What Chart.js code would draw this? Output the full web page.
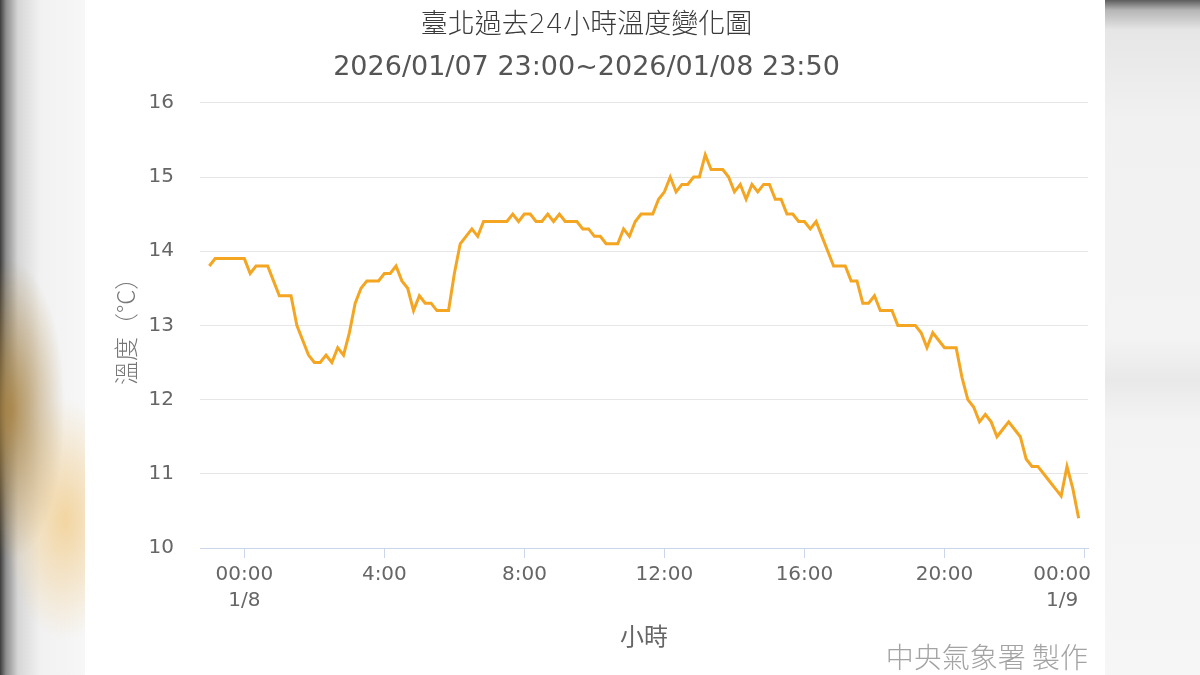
<!DOCTYPE html>
<html lang="zh-Hant">
<head>
<meta charset="utf-8">
<title>臺北過去24小時溫度變化圖</title>
<script src="https://cdn.jsdelivr.net/npm/chart.js@4.4.1/dist/chart.umd.min.js"></script>
<style>
  html, body { margin: 0; padding: 0; width: 1200px; height: 675px; overflow: hidden; }
  body {
    position: relative;
    background:
      radial-gradient(ellipse 55px 150px at 10px 410px, rgba(170,130,60,0.85), rgba(230,190,120,0) 100%),
      radial-gradient(ellipse 60px 120px at 65px 520px, rgba(242,205,140,0.8), rgba(240,200,130,0) 100%),
      linear-gradient(to right, #3c3c3c 0px, #8d8d8d 6px, #d6d6d6 18px, #f1f1f1 40px, #f7f7f7 85px);
  }
  #right { position: absolute; left: 1105px; top: 0; width: 95px; height: 675px;
    background: linear-gradient(to bottom, #5c5c5c 0px, #b5b5b5 10px, #e6e6e6 30px, #f1f1f1 120px, #f3f3f3 340px, #e9e9e9 380px, #f3f3f3 420px, #f6f6f6 675px); }
  #panel { position: absolute; left: 85px; top: 0; width: 1020px; height: 675px; background: #fff; }
</style>
</head>
<body>
<div id="right"></div>
<div id="panel"><canvas id="chart"></canvas></div>
<script>
// readings every 10 minutes, 2026/01/07 23:00 -> 2026/01/08 23:50
const startMinute = -60;   // minutes from 2026/01/08 00:00
const stepMinutes = 10;
const temps = [
  13.8, 13.9, 13.9, 13.9, 13.9, 13.9, 13.9,
  13.7, 13.8, 13.8, 13.8,
  13.6, 13.4, 13.4, 13.4,
  13.0, 12.8, 12.6, 12.5, 12.5, 12.6, 12.5, 12.7, 12.6,
  12.9, 13.3, 13.5, 13.6, 13.6, 13.6, 13.7, 13.7, 13.8,
  13.6, 13.5, 13.2, 13.4, 13.3, 13.3, 13.2, 13.2, 13.2,
  13.7, 14.1, 14.2, 14.3, 14.2,
  14.4, 14.4, 14.4, 14.4, 14.4,
  14.5, 14.4, 14.5, 14.5, 14.4, 14.4, 14.5, 14.4, 14.5, 14.4, 14.4, 14.4,
  14.3, 14.3, 14.2, 14.2, 14.1, 14.1, 14.1,
  14.3, 14.2, 14.4, 14.5, 14.5, 14.5,
  14.7, 14.8, 15.0, 14.8, 14.9, 14.9, 15.0, 15.0, 15.3, 15.1, 15.1, 15.1, 15.0,
  14.8, 14.9, 14.7, 14.9, 14.8, 14.9, 14.9, 14.7, 14.7, 14.5, 14.5,
  14.4, 14.4, 14.3, 14.4, 14.2, 14.0, 13.8, 13.8, 13.8, 13.6, 13.6,
  13.3, 13.3, 13.4, 13.2, 13.2, 13.2, 13.0, 13.0, 13.0, 13.0, 12.9,
  12.7, 12.9, 12.8, 12.7, 12.7, 12.7, 12.3, 12.0, 11.9, 11.7,
  11.8, 11.7, 11.5, 11.6, 11.7, 11.6, 11.5, 11.2, 11.1, 11.1,
  11.0, 10.9, 10.8, 10.7, 11.1, 10.8, 10.4
];
const xTickMinutes = [0, 240, 480, 720, 960, 1200, 1440];
const xTickLabels = [['00:00', '1/8'], '4:00', '8:00', '12:00', '16:00', '20:00', ['00:00', '1/9']];

const titleText = '臺北過去24小時溫度變化圖';
const subtitleText = '2026/01/07 23:00~2026/01/08 23:50';
const yTitle = '溫度（°C）';
const xTitle = '小時';
const creditText = '中央氣象署 製作';

const latin = '"DejaVu Sans", "Noto Sans CJK TC", sans-serif';
const cjk = '"Noto Sans CJK TC", "DejaVu Sans", sans-serif';

// x labels drawn by hand so the last one can be pulled inside the plot, highcharts-style
const xLabelPlugin = {
  id: 'xLabels',
  afterDraw(chart) {
    const ctx = chart.ctx;
    const sx = chart.scales.x;
    ctx.save();
    ctx.font = '20px ' + latin;
    ctx.fillStyle = '#666';
    ctx.textAlign = 'center';
    ctx.textBaseline = 'middle';
    xTickMinutes.forEach((m, i) => {
      const lines = [].concat(xTickLabels[i]);
      const w = Math.max(...lines.map(l => ctx.measureText(l).width));
      let x = sx.getPixelForValue(m);
      x = Math.min(x, sx.right + 3 - w / 2);
      lines.forEach((l, k) => ctx.fillText(l, x, sx.top + 27 + k * 25.5));
    });
    ctx.textAlign = 'right';
    ctx.fillStyle = '#a3a3a3';
    ctx.font = '300 28px ' + cjk;
    ctx.fillText(creditText, sx.right, 657);
    ctx.restore();
  }
};

new Chart(document.getElementById('chart'), {
  type: 'line',
  data: {
    datasets: [{
      data: temps.map((t, i) => ({ x: startMinute + i * stepMinutes, y: t })),
      borderColor: '#f4a521',
      borderWidth: 3,
      pointRadius: 0,
      tension: 0,
      fill: false
    }]
  },
  options: {
    responsive: true,
    maintainAspectRatio: false,
    animation: false,
    devicePixelRatio: 1,
    layout: { padding: { left: 0, right: 17, top: 0, bottom: 0 } },
    plugins: {
      legend: { display: false },
      tooltip: { enabled: false },
      title: {
        display: true,
        text: titleText,
        color: '#3a3a3a',
        font: { family: latin, size: 27, weight: '300' },
        padding: { top: 10, bottom: 4 }
      },
      subtitle: {
        display: true,
        text: subtitleText,
        color: '#555',
        font: { family: latin, size: 27, weight: 'normal' },
        padding: { top: 5, bottom: 19 }
      }
    },
    scales: {
      x: {
        type: 'linear',
        min: -76,
        max: 1446,
        afterBuildTicks: s => { s.ticks = xTickMinutes.map(v => ({ value: v })); },
        afterFit: s => { s.height = 127; },
        ticks: { display: false },
        grid: { drawOnChartArea: false, drawTicks: true, tickLength: 10, color: '#ccd6eb' },
        border: { color: '#ccd6eb' },
        title: {
          display: true,
          text: xTitle,
          color: '#666',
          font: { family: cjk, size: 24 },
          padding: { top: 0, bottom: 25 }
        }
      },
      y: {
        min: 10,
        max: 16,
        afterFit: s => { s.width = 115; },
        ticks: { stepSize: 1, padding: 26, color: '#666', font: { family: latin, size: 20 } },
        grid: { color: '#e6e6e6', drawTicks: false },
        border: { display: false },
        title: {
          display: true,
          text: yTitle,
          color: '#777',
          font: { family: cjk, size: 24, weight: '300' },
          padding: { top: 26, bottom: 0 }
        }
      }
    }
  },
  plugins: [xLabelPlugin]
});
</script>
</body>
</html>
